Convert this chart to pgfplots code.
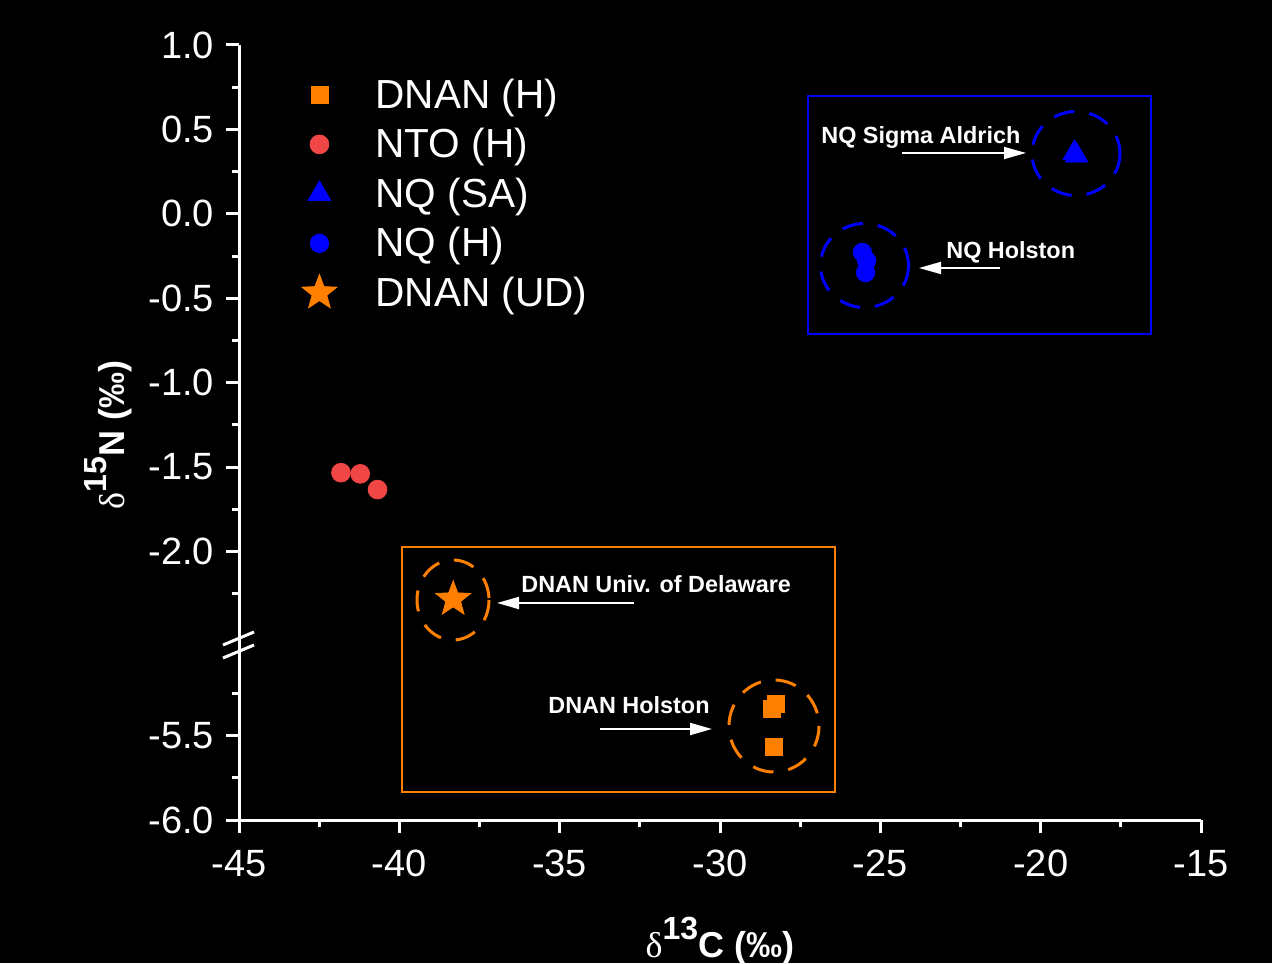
\documentclass[border=0pt]{standalone}
\usepackage{pgfplots}
\pgfplotsset{compat=1.18}
\usepackage{fontspec}
\setmainfont{Liberation Sans}
\newfontfamily\symfont{Liberation Serif}
\usetikzlibrary{arrows.meta}
\definecolor{dorange}{RGB}{255,128,0}
\definecolor{dred}{RGB}{240,70,70}
\definecolor{dblue}{RGB}{0,0,255}
\pgfdeclareplotmark{fstar}{%
  \pgfpathmoveto{\pgfpointpolar{90}{\pgfplotmarksize}}%
  \pgfpathlineto{\pgfpointpolar{126}{0.42\pgfplotmarksize}}%
  \pgfpathlineto{\pgfpointpolar{162}{\pgfplotmarksize}}%
  \pgfpathlineto{\pgfpointpolar{198}{0.42\pgfplotmarksize}}%
  \pgfpathlineto{\pgfpointpolar{234}{\pgfplotmarksize}}%
  \pgfpathlineto{\pgfpointpolar{270}{0.42\pgfplotmarksize}}%
  \pgfpathlineto{\pgfpointpolar{306}{\pgfplotmarksize}}%
  \pgfpathlineto{\pgfpointpolar{342}{0.42\pgfplotmarksize}}%
  \pgfpathlineto{\pgfpointpolar{18}{\pgfplotmarksize}}%
  \pgfpathlineto{\pgfpointpolar{54}{0.42\pgfplotmarksize}}%
  \pgfpathclose
  \pgfusepathqfillstroke
}
\begin{document}
\begin{tikzpicture}
\fill[black] (-119.5pt,-71.5pt) rectangle (516.5pt,410pt);
\begin{axis}[
  scale only axis, width=481pt, height=387.5pt,
  xmin=-45, xmax=-15, ymin=-3.59, ymax=1,
  axis x line*=bottom, axis y line*=left,
  axis line style={white, line width=1.5pt},
  tick style={white, line width=1.5pt},
  tick align=outside,
  major tick length=6.5pt, minor tick length=3.5pt,
  xtick={-45,-40,-35,-30,-25,-20,-15},
  xticklabels={-45,-40,-35,-30,-25,-20,-15},
  minor xtick={-42.5,-37.5,-32.5,-27.5,-22.5,-17.5},
  ytick={1,0.5,0,-0.5,-1,-1.5,-2,-3.09,-3.59},
  yticklabels={1.0,0.5,0.0,-0.5,-1.0,-1.5,-2.0,-5.5,-6.0},
  minor ytick={0.75,0.25,-0.25,-0.75,-1.25,-1.75,-2.25,-2.84,-3.34},
  ticklabel style={white, font=\fontsize{19}{19}\selectfont},
  xticklabel style={yshift=-5pt},
  yticklabel style={xshift=-2.5pt},
  xlabel={\bfseries{\mdseries\symfont δ}\raisebox{0.5em}{\fontsize{16}{17}\selectfont 13}C (‰)},
  ylabel={\bfseries{\mdseries\symfont δ}\raisebox{0.5em}{\fontsize{16}{17}\selectfont 15}N (‰)},
  label style={white, font=\fontsize{18}{19}\selectfont},
  xlabel style={at={(axis description cs:0.5,-0.1768)}, anchor=base},
  ylabel style={at={(axis description cs:-0.136,0.497)}, anchor=center},
  clip=false,
  legend style={draw=none, fill=none, text=white, inner sep=0pt,
    font=\fontsize{20.3}{21}\selectfont,
    at={(axis description cs:0.0541,0.9681)}, anchor=north west,
    row sep=0pt,
    nodes={inner sep=0pt}},
  legend cell align=left,
  legend image code/.code={%
    \path[draw=none, fill=none] (-14pt,-12.375pt) rectangle (14pt,12.375pt);
    \draw[#1] plot coordinates {(0pt,0pt)};},
  /tikz/every odd column/.append style={column sep=14pt},
]
% DNAN (H) -- lower segment, shifted by +2.41 onto the broken axis
\addplot[only marks, mark=square*, mark size=4.25pt, color=dorange]
  table[x=x, y expr=\thisrow{y}+2.41] {
x y
-28.26 -5.315
-28.39 -5.342
-28.31 -5.566
};
\addlegendentry{DNAN (H)}
\addplot[only marks, mark=*, mark size=4.7pt, color=dred] table[x=x, y=y] {
x y
-41.82 -1.533
-41.22 -1.540
-40.68 -1.633
};
\addlegendentry{NTO (H)}
\addplot[only marks, mark=triangle*, mark size=6.5pt, color=dblue] table[x=x, y=y] {
x y
-18.95 0.360
-18.88 0.345
};
\addlegendentry{NQ (SA)}
\addplot[only marks, mark=*, mark size=4.6pt, color=dblue] table[x=x, y=y] {
x y
-25.56 -0.228
-25.43 -0.277
-25.46 -0.348
};
\addlegendentry{NQ (H)}
\addplot[only marks, mark=fstar, mark size=9.2pt, color=dorange] table[x=x, y=y] {
x y
-38.32 -2.282
};
\addlegendentry{DNAN (UD)}
\end{axis}
\begin{scope}[x=0.5pt, y=-0.5pt, shift={(-119.5pt,410pt)}]
  % axis break marks
  \draw[white, line width=1.5pt] (223,645) -- (254,632);
  \draw[white, line width=1.5pt] (223,658) -- (254,645);
  % boxes
  \draw[dblue, line width=0.7pt] (808,96) rectangle (1151,334);
  \draw[dorange, line width=0.7pt] (402,547) rectangle (835,792);
  % dashed circles
  \begin{scope}[line width=1.5pt, dash pattern=on 10.5pt off 7.5pt]
    \draw[dorange] (453,600) ellipse [x radius=36, y radius=40];
    \draw[dorange] (774,726) ellipse [x radius=45, y radius=46];
    \draw[dblue] (1076,153.5) ellipse [x radius=44, y radius=42];
    \draw[dblue] (864.5,265.5) ellipse [x radius=44, y radius=42];
  \end{scope}
  % arrows
  \begin{scope}[white, line width=0.9pt, -{Triangle[length=11pt,width=6pt]}]
    \draw (902,153) -- (1026,153);
    \draw (1000,268) -- (919,268);
    \draw (634,603) -- (497,603);
    \draw (600,729) -- (712,729);
  \end{scope}
  % annotation texts
  \begin{scope}[every node/.style={white, inner sep=0pt, anchor=base west, font=\bfseries\fontsize{11.7}{12}\selectfont}]
    \node at (821,143.3) {NQ Sigma Aldrich};
    \node at (946,258.3) {NQ Holston};
    \node at (521,592.7) {DNAN Univ. of Delaware};
    \node at (548,713.3) {DNAN Holston};
  \end{scope}
\end{scope}
\pgfresetboundingbox
\path (-119.5pt,-71.5pt) rectangle (516.5pt,410pt);
\end{tikzpicture}
\end{document}
